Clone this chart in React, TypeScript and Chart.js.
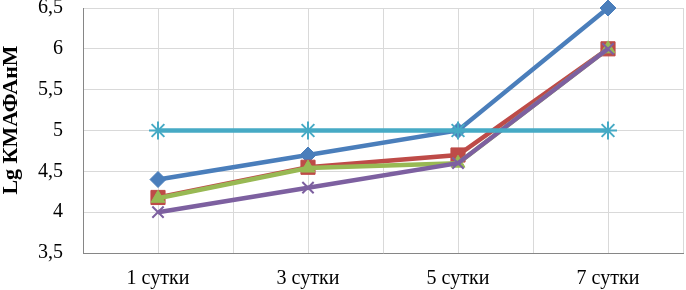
import React, { useEffect, useRef } from "react";
import { Chart, registerables } from "chart.js";

Chart.register(...registerables);

const categories = ["1 сутки", "3 сутки", "5 сутки", "7 сутки"];
const seriesBlue = [4.4, 4.7, 5.0, 6.5];
const seriesRed = [4.18, 4.55, 4.7, 6.0];
const seriesGreen = [4.17, 4.54, 4.6, 6.0];
const seriesPurple = [4.0, 4.3, 4.6, 6.0];
const seriesCyan = [5, 5, 5, 5];
const yTitle = "Lg КМАФАнМ";
const yMin = 3.5;
const yMax = 6.5;
const yStep = 0.5;

const FONT = "'Liberation Serif', 'Times New Roman', serif";

export default function App() {
  const ref = useRef<HTMLCanvasElement | null>(null);

  useEffect(() => {
    document.body.style.margin = "0";
    const canvas = ref.current;
    if (!canvas) return;

    const titlePlugin = {
      id: "yTitlePlugin",
      afterDraw(chart: any) {
        const ctx = chart.ctx;
        ctx.save();
        ctx.font = `bold 22px ${FONT}`;
        ctx.fillStyle = "#000";
        ctx.textAlign = "center";
        ctx.textBaseline = "middle";
        ctx.translate(11, 120);
        ctx.rotate(-Math.PI / 2);
        ctx.fillText(yTitle, 0, 0);
        ctx.restore();
      },
    };

    const mk = (label: string, data: number[], color: string, style: any, radius: number, order: number, pbw = 1) => ({
      label,
      data,
      borderColor: color,
      backgroundColor: color,
      pointBackgroundColor: color,
      pointBorderColor: color,
      borderWidth: 4.5,
      pointStyle: style,
      pointRadius: radius,
      pointBorderWidth: pbw,
      tension: 0,
      order,
      clip: false,
      xAxisID: "x",
    });

    const zeroPad = (scale: any) => {
      scale.paddingTop = 0;
      scale.paddingBottom = 0;
      scale.paddingLeft = 0;
      scale.paddingRight = 0;
    };

    const chart = new Chart(canvas, {
      type: "line",
      data: {
        labels: categories,
        datasets: [
          mk("A", seriesBlue, "#4A7EBB", "rectRot", 8, 4),
          mk("B", seriesRed, "#BE4B48", "rect", 10, 3),
          mk("C", seriesGreen, "#98B954", "triangle", 8, 2),
          mk("D", seriesPurple, "#7D60A0", "crossRot", 8, 1, 2),
          mk("E", seriesCyan, "#46AAC5", "star", 9, 0, 2),
        ],
      },
      options: {
        animation: false,
        responsive: false,
        maintainAspectRatio: false,
        layout: { autoPadding: false, padding: { top: 8, right: 3, left: 0, bottom: 0 } },
        plugins: {
          legend: { display: false },
          tooltip: { enabled: false },
          title: { display: false },
        },
        scales: {
          x: {
            type: "category",
            position: "bottom",
            offset: true,
            grid: { offset: true, color: "#D9D9D9", drawTicks: false, lineWidth: 1 },
            border: { display: true, color: "#868686", width: 1 },
            ticks: { color: "#000", font: { family: FONT, size: 20 }, padding: 14, maxRotation: 0 },
            afterFit(scale: any) {
              scale.height = 37;
              zeroPad(scale);
            },
          },
          x2: {
            type: "category",
            position: "top",
            offset: true,
            grid: { offset: false, color: "#D9D9D9", drawTicks: false, lineWidth: 1 },
            border: { display: false },
            ticks: { display: false },
            afterFit(scale: any) {
              scale.height = 0;
              zeroPad(scale);
            },
          },
          y: {
            type: "linear",
            min: yMin,
            max: yMax,
            ticks: {
              stepSize: yStep,
              color: "#000",
              font: { family: FONT, size: 20 },
              padding: 20,
              callback: (v: any) => String(Number(v)).replace(".", ","),
            },
            grid: { color: "#D9D9D9", drawTicks: false, lineWidth: 1 },
            border: { display: true, color: "#868686", width: 1 },
            afterFit(scale: any) {
              scale.width = 83;
              zeroPad(scale);
            },
          },
        },
      } as any,
      plugins: [titlePlugin],
    });

    return () => chart.destroy();
  }, []);

  return (
    <div style={{ width: 686, height: 290, position: "relative" }}>
      <canvas ref={ref} width={686} height={290} style={{ display: "block", width: 686, height: 290 }} />
    </div>
  );
}
